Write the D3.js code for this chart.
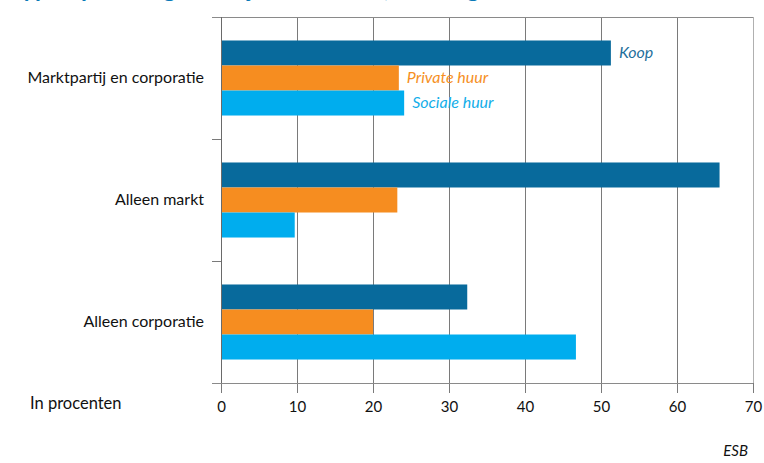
<!DOCTYPE html>
<html>
<head>
<meta charset="utf-8">
<script src="https://cdn.jsdelivr.net/npm/d3@7"></script>
<style>
  html, body { margin: 0; padding: 0; background: #fff; }
  svg { display: block; }
  text { font-family: Lato, "Open Sans", sans-serif; }
</style>
</head>
<body>
<svg id="chart" width="764" height="463"></svg>
<script>
const categories = ["Marktpartij en corporatie", "Alleen markt", "Alleen corporatie"];
const seriesNames = ["Koop", "Private huur", "Sociale huur"];
const koop = [51.3, 65.6, 32.4];
const privateHuur = [23.4, 23.2, 20.0];
const socialeHuur = [24.1, 9.7, 46.7];
const xTicks = [0, 10, 20, 30, 40, 50, 60, 70];
const colors = ["#086a9c", "#f68d20", "#00adee"];
const labelColors = ["#1f6f9c", "#f6901f", "#13aee9"];

const seriesValues = [koop, privateHuur, socialeHuur];

const svg = d3.select("#chart");
const mLeft = 221, mRight = 753, mTop = 17, mBottom = 383;

const x = d3.scaleLinear().domain([0, 70]).range([mLeft, mRight]);
const y = d3.scaleBand().domain(categories).range([mTop, mBottom])
  .paddingInner(0.385).paddingOuter(0.1925);
const ySub = d3.scaleBand().domain(seriesNames).range([0, y.bandwidth()]);

// title (cut off at top, as in the reference)
svg.append("text")
  .attr("x", 10).attr("y", -3)
  .attr("fill", "#0a7ab8").attr("font-size", 24).attr("font-weight", "bold")
  .text("Type opdrachtgever bij nieuwbouw, naar eigendomsvorm");

// gridlines
svg.append("g").selectAll("line").data(xTicks).join("line")
  .attr("x1", d => x(d)).attr("x2", d => x(d))
  .attr("y1", mTop).attr("y2", mBottom)
  .attr("stroke", (d, i) => i === xTicks.length - 1 ? "#b0b0b0" : "#7a7a7a")
  .attr("stroke-width", 1).attr("shape-rendering", "crispEdges");

// top line
svg.append("line")
  .attr("x1", mLeft - 9).attr("x2", mRight).attr("y1", mTop).attr("y2", mTop)
  .attr("stroke", "#8a8a8a").attr("shape-rendering", "crispEdges");

// bars
const groups = svg.append("g").selectAll("g").data(categories).join("g")
  .attr("transform", c => `translate(0,${y(c)})`);

groups.selectAll("rect")
  .data((c, ci) => seriesNames.map((s, si) => ({ s, si, v: seriesValues[si][ci] })))
  .join("rect")
  .attr("x", x(0))
  .attr("y", d => ySub(d.s))
  .attr("width", d => x(d.v) - x(0))
  .attr("height", ySub.bandwidth())
  .attr("fill", d => colors[d.si]);

// series labels on first category
const c0 = categories[0];
svg.append("g").selectAll("text").data(seriesNames).join("text")
  .attr("x", (s, si) => x(seriesValues[si][0]) + 8)
  .attr("y", s => y(c0) + ySub(s) + ySub.bandwidth() / 2 + 5)
  .attr("fill", (s, si) => labelColors[si])
  .attr("font-size", 16).attr("font-style", "italic")
  .text(s => s);

// x axis
const xAxis = d3.axisBottom(x).tickValues(xTicks).tickSize(10).tickPadding(8);
const gx = svg.append("g").attr("transform", `translate(0,${mBottom})`).call(xAxis);
gx.select(".domain").remove();
gx.append("line").attr("x1", mLeft - 9).attr("x2", mRight).attr("y1", 0).attr("y2", 0)
  .attr("stroke", "#8a8a8a").attr("shape-rendering", "crispEdges");
gx.selectAll(".tick line").attr("stroke", "#7a7a7a").attr("shape-rendering", "crispEdges");
gx.selectAll(".tick text").attr("font-size", 15).attr("fill", "#111")
  .attr("font-family", "Lato, sans-serif");

// y axis
const boundaries = [y(categories[1]) - y.step() * y.paddingInner() / 2,
                    y(categories[2]) - y.step() * y.paddingInner() / 2];
svg.append("line").attr("x1", mLeft).attr("x2", mLeft).attr("y1", mTop).attr("y2", mBottom)
  .attr("stroke", "#6a6a6a").attr("shape-rendering", "crispEdges");
svg.append("g").selectAll("line").data(boundaries).join("line")
  .attr("x1", mLeft - 9).attr("x2", mLeft)
  .attr("y1", d => Math.round(d)).attr("y2", d => Math.round(d))
  .attr("stroke", "#7a7a7a").attr("shape-rendering", "crispEdges");

svg.append("g").selectAll("text").data(categories).join("text")
  .attr("x", 204)
  .attr("y", c => y(c) + y.bandwidth() / 2 + 5)
  .attr("text-anchor", "end")
  .attr("font-size", 16).attr("fill", "#111")
  .text(c => c);

svg.append("text").attr("x", 30).attr("y", 409)
  .attr("font-size", 16.5).attr("fill", "#111").text("In procenten");

svg.append("text").attr("x", 748).attr("y", 456)
  .attr("text-anchor", "end").attr("font-size", 15).attr("font-style", "italic")
  .attr("fill", "#111").text("ESB");
</script>
</body>
</html>
